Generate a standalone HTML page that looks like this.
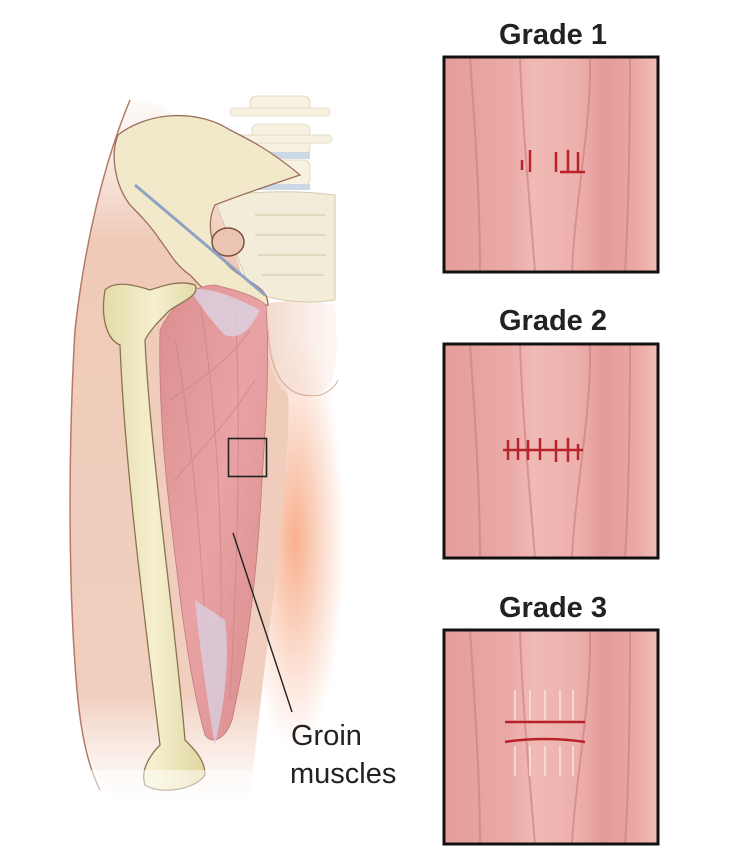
<!DOCTYPE html>
<html><head><meta charset="utf-8"><style>
html,body{margin:0;padding:0;background:#fff;}
svg{display:block;}
</style></head><body>
<svg width="738" height="854" viewBox="0 0 738 854" xmlns="http://www.w3.org/2000/svg">
<defs>
<radialGradient id="glow" cx="0.5" cy="0.5" r="0.5">
<stop offset="0" stop-color="#f6a27a" stop-opacity="0.85"/>
<stop offset="1" stop-color="#f6a27a" stop-opacity="0"/>
</radialGradient>
<linearGradient id="skin" x1="0" y1="0" x2="0" y2="1">
<stop offset="0" stop-color="#f3d5c6" stop-opacity="0.1"/>
<stop offset="0.2" stop-color="#efcab8"/>
<stop offset="0.85" stop-color="#f1cfbf"/>
<stop offset="1" stop-color="#f6e2d8" stop-opacity="0.1"/>
</linearGradient>
<linearGradient id="bone" x1="0" y1="0" x2="1" y2="0">
<stop offset="0" stop-color="#e4dba8"/>
<stop offset="0.5" stop-color="#f5efcf"/>
<stop offset="1" stop-color="#e0d6a0"/>
</linearGradient>
<linearGradient id="musc" x1="0" y1="0" x2="1" y2="1">
<stop offset="0" stop-color="#dc8e90"/>
<stop offset="0.5" stop-color="#e9a3a4"/>
<stop offset="1" stop-color="#d98a8c"/>
</linearGradient>
<linearGradient id="butt" x1="0" y1="0" x2="1" y2="0">
<stop offset="0" stop-color="#f2d6c8"/>
<stop offset="1" stop-color="#f8e6dc" stop-opacity="0.3"/>
</linearGradient>
<linearGradient id="panel" x1="0" y1="0" x2="1" y2="0">
<stop offset="0" stop-color="#e49d9b"/>
<stop offset="0.3" stop-color="#eaa9a6"/>
<stop offset="0.42" stop-color="#f0bab5"/>
<stop offset="0.62" stop-color="#edb0ac"/>
<stop offset="0.75" stop-color="#e39b99"/>
<stop offset="0.9" stop-color="#eaa8a4"/>
<stop offset="1" stop-color="#f0bfb5"/>
</linearGradient>
</defs>

<ellipse cx="295" cy="540" rx="50" ry="210" fill="url(#glow)"/>
<path d="M130,100 C105,160 85,240 75,330 C68,450 68,600 78,700 C85,760 100,790 120,800 L250,800 C258,720 268,640 278,560 C286,470 290,420 288,395 C280,380 272,360 268,320 L250,300 L200,140 C180,110 150,100 130,100Z" fill="url(#skin)"/>
<path d="M130,100 C105,160 85,240 75,330 C68,450 68,600 78,700 C82,740 90,770 100,790" fill="none" stroke="#b57a66" stroke-width="1.5"/>
<!-- buttock -->
<path d="M262,305 C275,300 310,300 335,305 C338,340 338,370 330,385 C318,398 295,400 282,390 C270,375 265,345 262,305Z" fill="url(#butt)"/>
<path d="M268,330 C270,380 290,400 320,395 C330,392 336,385 338,380" fill="none" stroke="#d9ab96" stroke-width="1"/>
<g fill="#f6efdc" stroke="#e0d6bc" stroke-width="1" opacity="0.85">
<rect x="250" y="96" width="60" height="20" rx="6"/>
<rect x="230" y="108" width="100" height="8" rx="4"/>
<rect x="252" y="124" width="58" height="30" rx="6"/>
<rect x="232" y="135" width="100" height="8" rx="4"/>
<rect x="252" y="160" width="58" height="25" rx="6"/>
</g>
<rect x="252" y="152" width="58" height="7" fill="#cdd8e6"/>
<rect x="252" y="184" width="58" height="6" fill="#cdd8e6"/>
<path d="M215,200 C240,190 300,190 335,195 L335,300 C300,305 270,300 250,290 C240,260 225,230 215,200Z" fill="#f3ecd8" stroke="#d5cab0" stroke-width="1"/>
<g stroke="#ddd2b6" stroke-width="1.5" fill="none">
<path d="M255,215 h70 M255,235 h70 M258,255 h68 M262,275 h62"/>
</g>
<path d="M118,135 C150,110 200,110 230,130 C250,140 270,150 300,175 C270,185 240,195 215,205 C205,225 210,255 240,275 C255,285 268,290 268,305 C255,310 245,300 230,300 C210,300 200,285 190,275 C175,265 168,250 160,240 C150,225 140,215 130,205 C115,185 110,155 118,135Z" fill="#f2e9cb" stroke="#9c6e5c" stroke-width="1.3"/>
<ellipse cx="228" cy="242" rx="16" ry="14" fill="#ecc4b3" stroke="#7a5040" stroke-width="1.5"/>
<line x1="135" y1="185" x2="265" y2="295" stroke="#8ea2c4" stroke-width="3"/>
<path d="M160,330 C175,300 195,285 215,285 C235,290 255,295 266,305 C270,360 266,420 262,480 C258,560 250,640 232,720 C225,740 212,745 205,735 C195,700 185,640 178,580 C168,500 158,420 160,330Z" fill="url(#musc)" stroke="#c07a7a" stroke-width="0.8"/>
<g stroke="#c98285" stroke-width="1" fill="none" opacity="0.7">
<path d="M175,340 C190,420 200,520 210,700"/>
<path d="M200,300 C215,400 225,520 220,700"/>
<path d="M235,300 C240,400 240,520 230,700"/>
<path d="M170,400 C200,380 230,360 250,330"/>
<path d="M175,480 C200,450 230,420 255,380"/>
</g>
<path d="M190,290 C210,285 240,300 260,310 C250,330 240,340 225,335 C210,320 200,305 190,290Z" fill="#dcd3e4" opacity="0.8"/>
<path d="M195,600 C200,650 210,720 215,745 C225,700 230,660 225,620Z" fill="#d9cfe0" opacity="0.8"/>
<path d="M105,290 C115,280 135,285 150,290 C165,285 180,280 195,285 C200,295 185,300 170,310 C160,320 150,330 145,340 C150,450 175,620 185,740 C195,750 205,760 205,775 C195,790 160,795 145,785 C140,770 150,755 160,745 C145,620 125,470 120,345 C108,340 100,320 105,290Z" fill="url(#bone)" stroke="#8a7450" stroke-width="1.3"/>
<rect x="60" y="770" width="280" height="40" fill="#fff" opacity="0.5"/>
<rect x="228.5" y="438.5" width="38" height="38" fill="none" stroke="#222" stroke-width="1.6"/>
<line x1="233" y1="533" x2="292" y2="712" stroke="#222" stroke-width="1.4"/>
<text x="291" y="745" font-family="'Liberation Sans',sans-serif" font-size="29" fill="#222">Groin</text>
<text x="290" y="783" font-family="'Liberation Sans',sans-serif" font-size="29" fill="#222">muscles</text>

<g font-family="'Liberation Sans',sans-serif" font-weight="bold" font-size="29" fill="#222" text-anchor="middle">
<text x="553" y="44">Grade 1</text>
<text x="553" y="330">Grade 2</text>
<text x="553" y="617">Grade 3</text>
</g>

<g>
<rect x="444" y="57" width="214" height="215" fill="url(#panel)"/>
<g stroke="#c77d7e" stroke-width="2" fill="none" opacity="0.6">
<path d="M470,57 C475,130 480,200 480,272"/><path d="M520,57 C522,120 528,180 535,272"/><path d="M590,57 C592,120 575,200 572,272"/><path d="M630,57 C630,150 628,220 625,272"/></g>
<g stroke="#b8222a" stroke-width="2.5" fill="none"><path d="M522,160 v10 M530,150 v22 M556,152 v20 M568,150 v22 M578,152 v20 M560,172 h25"/></g>
<rect x="444" y="57" width="214" height="215" fill="none" stroke="#111" stroke-width="3"/>
</g>
<g>
<rect x="444" y="344" width="214" height="214" fill="url(#panel)"/>
<g stroke="#c77d7e" stroke-width="2" fill="none" opacity="0.6">
<path d="M470,344 C475,420 480,490 480,558"/><path d="M520,344 C522,410 528,470 535,558"/><path d="M590,344 C592,410 575,490 572,558"/><path d="M630,344 C630,440 628,510 625,558"/></g>
<g stroke="#b8222a" stroke-width="2.5" fill="none"><path d="M503,450 h80 M508,440 v20 M518,438 v22 M528,440 v20 M540,438 v22 M556,440 v22 M568,438 v24 M578,444 v16"/></g>
<rect x="444" y="344" width="214" height="214" fill="none" stroke="#111" stroke-width="3"/>
</g>
<g>
<rect x="444" y="630" width="214" height="214" fill="url(#panel)"/>
<g stroke="#c77d7e" stroke-width="2" fill="none" opacity="0.6">
<path d="M470,630 C475,710 480,780 480,844"/><path d="M520,630 C522,700 528,760 535,844"/><path d="M590,630 C592,700 575,780 572,844"/><path d="M630,630 C630,720 628,800 625,844"/></g>
<g stroke="#b8222a" stroke-width="2.5" fill="none"><path d="M505,722 h80 M505,742 C530,738 560,738 585,742"/></g>
<g stroke="#f8e0dc" stroke-width="2" fill="none" opacity="0.8"><path d="M515,690 v30 M530,690 v30 M545,690 v30 M560,690 v30 M573,690 v30 M515,746 v30 M530,746 v30 M545,746 v30 M560,746 v30 M573,746 v30"/></g>
<rect x="444" y="630" width="214" height="214" fill="none" stroke="#111" stroke-width="3"/>
</g>
</svg>
</body></html>
